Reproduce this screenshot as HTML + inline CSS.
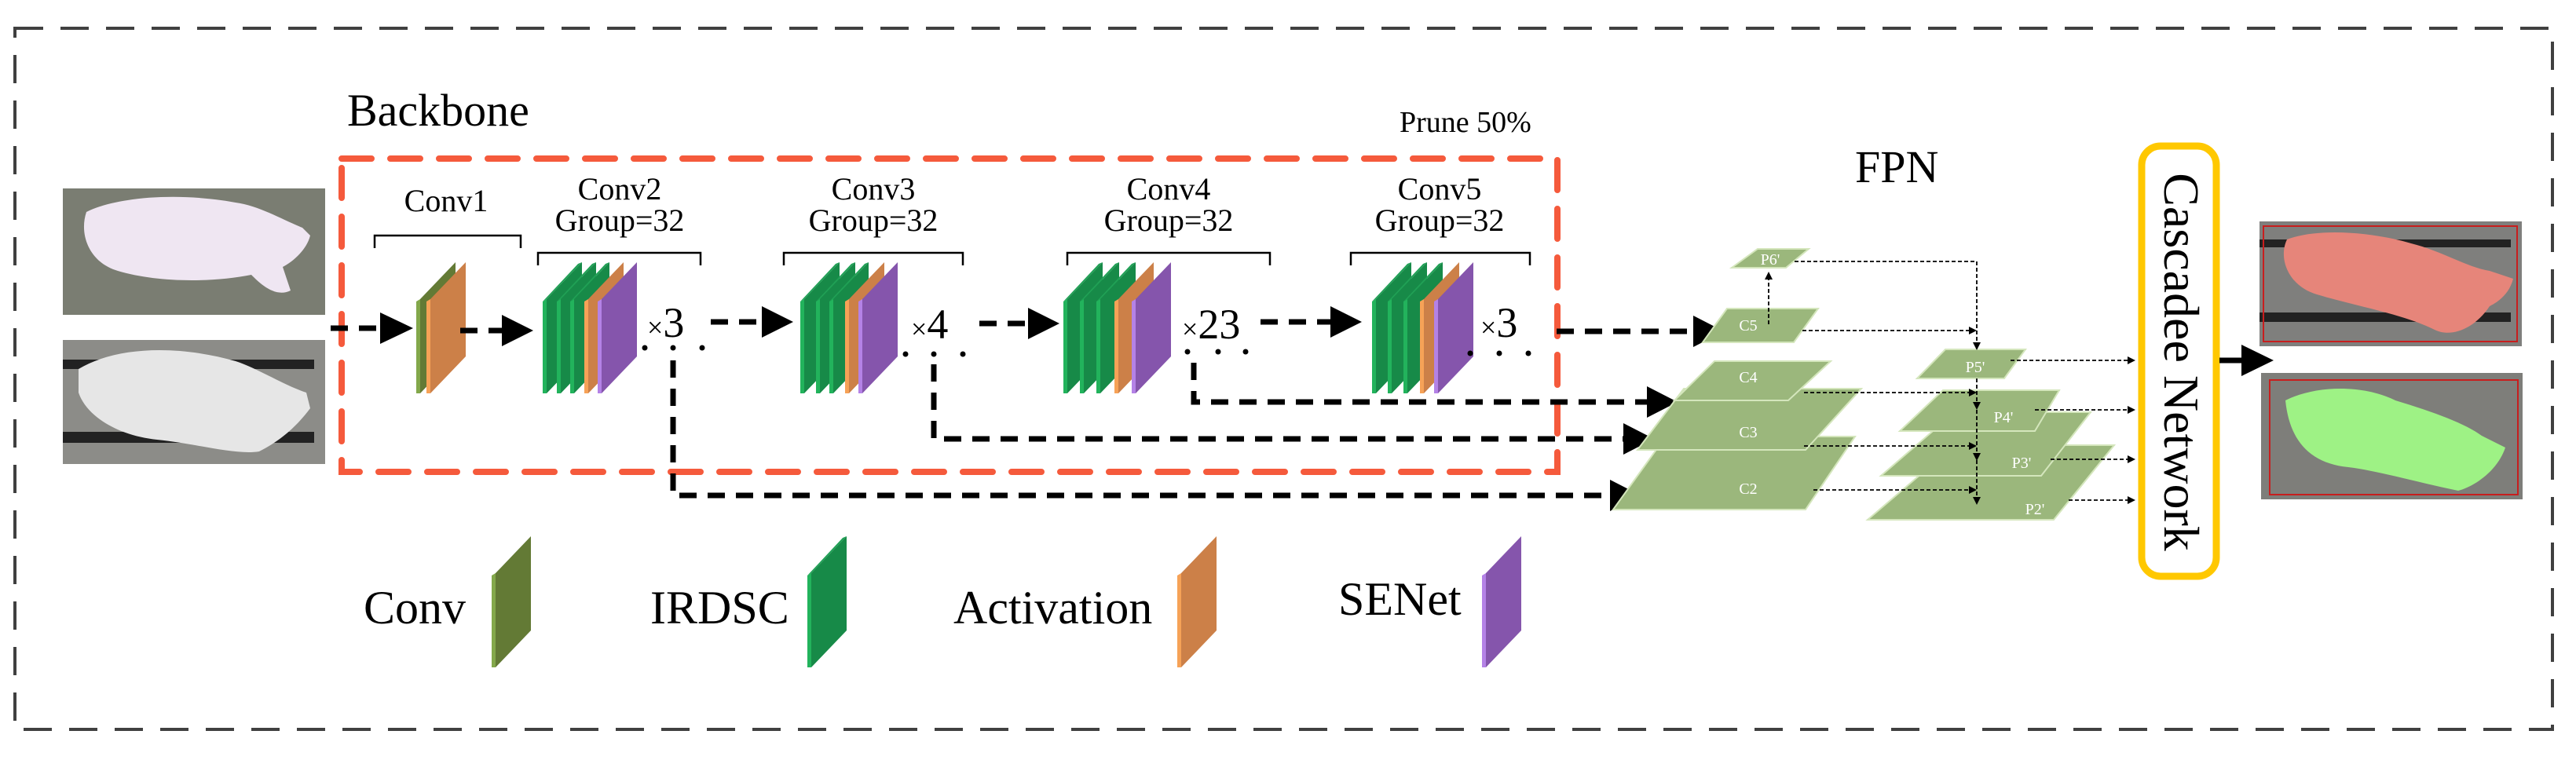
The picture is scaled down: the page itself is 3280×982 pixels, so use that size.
<!DOCTYPE html>
<html><head><meta charset="utf-8"><style>
html,body{margin:0;padding:0;background:#fff;}
svg{display:block;font-family:"Liberation Serif",serif;}
text{font-family:"Liberation Serif",serif;}
</style></head><body>
<svg width="3280" height="982" viewBox="0 0 3280 982" xmlns="http://www.w3.org/2000/svg" font-family="Liberation Serif, serif">
<defs>
<g id="sg"><polygon points="5,47 50,0 50,120 5,167" fill="#178a48"/><polygon points="0,50 5,47 5,167 0,167" fill="#22b35c"/><polygon points="0,50 45,2 50,0 5,47" fill="#20a055"/></g>
<g id="so"><polygon points="5,47 50,0 50,120 5,167" fill="#cc8048"/><polygon points="0,50 5,47 5,167 0,167" fill="#f6a257"/></g>
<g id="sp"><polygon points="5,47 50,0 50,120 5,167" fill="#8555ac"/><polygon points="0,50 5,47 5,167 0,167" fill="#b482e6"/></g>
<g id="sc"><polygon points="5,47 50,0 50,120 5,167" fill="#637a35"/><polygon points="0,50 5,47 5,167 0,167" fill="#83a84b"/></g>
</defs>

<rect x="19" y="36" width="3231" height="893" fill="none" stroke="#404040" stroke-width="4" stroke-dasharray="36 22"/>

<text x="442" y="160" font-size="58">Backbone</text>
<text x="1782" y="168" font-size="38">Prune 50%</text>
<rect x="435" y="202" width="1548" height="399" fill="none" stroke="#f55a3c" stroke-width="8" stroke-dasharray="38 24" stroke-linecap="round"/>

<rect x="80" y="240" width="334" height="161" fill="#7a7d72"/>
<path d="M110 270 C150 250 230 245 300 258 C330 262 360 280 385 290 L395 300 C390 320 370 335 360 340 L370 370 C350 380 330 360 320 350 C270 360 200 360 150 345 C115 335 100 300 110 270Z" fill="#efe6f2"/>
<rect x="80" y="433" width="334" height="158" fill="#8c8c88"/>
<rect x="80" y="458" width="320" height="12" fill="#222"/>
<rect x="80" y="550" width="320" height="14" fill="#222"/>
<path d="M100 470 C150 440 230 440 300 460 C330 470 360 490 390 500 L395 520 C380 540 360 560 330 575 C300 580 250 565 200 560 C150 555 110 530 100 500Z" fill="#e6e6e6"/>

<g font-size="40" text-anchor="middle">
<text x="568" y="269">Conv1</text>
<text x="789" y="254">Conv2</text><text x="789" y="294">Group=32</text>
<text x="1112" y="254">Conv3</text><text x="1112" y="294">Group=32</text>
<text x="1488" y="254">Conv4</text><text x="1488" y="294">Group=32</text>
<text x="1833" y="254">Conv5</text><text x="1833" y="294">Group=32</text>
</g>
<g fill="none" stroke="#000" stroke-width="2.5">
<polyline points="477,316 477,300 663,300 663,316"/>
<polyline points="685,338 685,322 892,322 892,338"/>
<polyline points="998,338 998,322 1226,322 1226,338"/>
<polyline points="1359,338 1359,322 1617,322 1617,338"/>
<polyline points="1720,338 1720,322 1948,322 1948,338"/>
</g>

<use href="#sc" x="530" y="334"/><use href="#so" x="543" y="334"/>
<use href="#sg" x="691" y="334"/><use href="#sg" x="709" y="334"/><use href="#sg" x="726" y="334"/><use href="#so" x="744" y="334"/><use href="#sp" x="761" y="334"/>
<use href="#sg" x="1019" y="334"/><use href="#sg" x="1039" y="334"/><use href="#sg" x="1056" y="334"/><use href="#so" x="1076" y="334"/><use href="#sp" x="1093" y="334"/>
<use href="#sg" x="1354" y="334"/><use href="#sg" x="1375" y="334"/><use href="#sg" x="1396" y="334"/><use href="#so" x="1419" y="334"/><use href="#sp" x="1441" y="334"/>
<use href="#sg" x="1747" y="334"/><use href="#sg" x="1767" y="334"/><use href="#sg" x="1787" y="334"/><use href="#so" x="1808" y="334"/><use href="#sp" x="1826" y="334"/>

<g font-size="54"><text x="824" y="429"><tspan font-size="36">×</tspan>3</text>
<text x="1160" y="431"><tspan font-size="36">×</tspan>4</text>
<text x="1505" y="431"><tspan font-size="36">×</tspan>23</text>
<text x="1885" y="429"><tspan font-size="36">×</tspan>3</text></g>
<g fill="#000">
<circle cx="821" cy="443" r="3.5"/><circle cx="857" cy="443" r="3.5"/><circle cx="894" cy="443" r="3.5"/>
<circle cx="1153" cy="451" r="3.5"/><circle cx="1189" cy="451" r="3.5"/><circle cx="1226" cy="451" r="3.5"/>
<circle cx="1512" cy="448" r="3.5"/><circle cx="1551" cy="448" r="3.5"/><circle cx="1586" cy="448" r="3.5"/>
<circle cx="1872" cy="450" r="3.5"/><circle cx="1909" cy="450" r="3.5"/><circle cx="1946" cy="450" r="3.5"/>
</g>

<g fill="none" stroke="#000" stroke-width="7" stroke-dasharray="22 14">
<line x1="421" y1="418" x2="486" y2="418"/>
<line x1="586" y1="421" x2="640" y2="421"/>
<line x1="905" y1="410" x2="970" y2="410"/>
<line x1="1247" y1="412" x2="1310" y2="412"/>
<line x1="1605" y1="410" x2="1694" y2="410"/>
<line x1="1982" y1="422" x2="2158" y2="422"/>
<polyline points="857,459 857,631 2052,631"/>
<polyline points="1189,464 1189,559 2070,559"/>
<polyline points="1520,462 1520,512 2100,512"/>
</g>
<g fill="#000">
<polygon points="484,398 526,418 484,438"/>
<polygon points="639,401 679,421 639,441"/>
<polygon points="970,390 1010,410 970,430"/>
<polygon points="1309,392 1349,412 1309,432"/>
<polygon points="1694,390 1734,410 1694,430"/>
<polygon points="2156,402 2195,422 2156,442"/>
<polygon points="2050,611 2089,631 2050,651"/>
<polygon points="2067,539 2106,559 2067,579"/>
<polygon points="2097,492 2136,512 2097,532"/>
</g>

<text x="2362" y="232" font-size="58">FPN</text>
<g fill="#9bb77c" stroke="#d4e6bc" stroke-width="2">
<polygon points="2121,556 2362,556 2299,649 2054,649"/>
<polygon points="2144,495 2370,495 2299,573 2085,573"/>
<polygon points="2183,460 2331,460 2277,510 2132,510"/>
<polygon points="2199,393 2315,393 2284,436 2168,436"/>
<polygon points="2238,317 2303,317 2274,341 2205,341"/>
<polygon points="2489,567 2692,567 2615,662 2378,662"/>
<polygon points="2489,525 2662,525 2599,606 2395,606"/>
<polygon points="2474,497 2622,497 2591,549 2419,549"/>
<polygon points="2477,445 2579,445 2552,482 2441,482"/>
</g>
<g fill="#fff" font-size="20" text-anchor="middle">
<text x="2254" y="337">P6'</text>
<text x="2226" y="421">C5</text>
<text x="2226" y="487">C4</text>
<text x="2226" y="557">C3</text>
<text x="2226" y="629">C2</text>
<text x="2515" y="474">P5'</text>
<text x="2551" y="538">P4'</text>
<text x="2574" y="596">P3'</text>
<text x="2591" y="655">P2'</text>
</g>
<g fill="none" stroke="#000" stroke-width="1.8" stroke-dasharray="5 3">
<polyline points="2285,333 2517,333 2517,438"/>
<line x1="2252" y1="413" x2="2252" y2="355"/>
<line x1="2295" y1="421" x2="2510" y2="421"/>
<line x1="2517" y1="482" x2="2517" y2="637"/>
<line x1="2297" y1="500" x2="2510" y2="500"/>
<line x1="2297" y1="568" x2="2510" y2="568"/>
<line x1="2309" y1="624" x2="2510" y2="624"/>
<line x1="2560" y1="459" x2="2711" y2="459"/>
<line x1="2591" y1="522" x2="2711" y2="522"/>
<line x1="2611" y1="585" x2="2711" y2="585"/>
<line x1="2634" y1="637" x2="2711" y2="637"/>
</g>
<g fill="#000">
<polygon points="2247,356 2257,356 2252,346"/>
<polygon points="2512,436 2522,436 2517,446"/>
<polygon points="2507,416 2517,421 2507,426"/>
<polygon points="2507,495 2517,500 2507,505"/>
<polygon points="2507,563 2517,568 2507,573"/>
<polygon points="2507,619 2517,624 2507,629"/>
<polygon points="2512,512 2522,512 2517,522"/>
<polygon points="2512,577 2522,577 2517,587"/>
<polygon points="2512,633 2522,633 2517,643"/>
<polygon points="2709,454 2719,459 2709,464"/>
<polygon points="2709,517 2719,522 2709,527"/>
<polygon points="2709,580 2719,585 2709,590"/>
<polygon points="2709,632 2719,637 2709,642"/>
</g>

<rect x="2727" y="186" width="95" height="548" rx="24" fill="#fff" stroke="#ffc800" stroke-width="9"/>
<text transform="translate(2756,461) rotate(90)" font-size="64" text-anchor="middle">Cascadee Network</text>
<line x1="2826" y1="459" x2="2856" y2="459" stroke="#000" stroke-width="7"/>
<polygon points="2854,439 2895,459 2854,479" fill="#000"/>

<rect x="2877" y="282" width="334" height="159" fill="#7f7f7d"/>
<rect x="2877" y="305" width="320" height="10" fill="#222"/>
<rect x="2877" y="398" width="320" height="12" fill="#222"/>
<path d="M2912 305 C2950 290 3020 295 3070 310 C3110 320 3140 340 3170 345 L3200 355 C3195 375 3180 385 3170 390 C3150 420 3120 430 3100 420 C3060 400 3000 390 2950 375 C2915 365 2900 330 2912 305Z" fill="#e6857a"/>
<rect x="2882" y="288" width="323" height="147" fill="none" stroke="#c81e1e" stroke-width="2"/>
<rect x="2879" y="475" width="333" height="161" fill="#7e7e7a"/>
<path d="M2910 510 C2950 490 3010 490 3050 510 C3100 525 3140 540 3160 555 L3190 570 C3180 600 3150 620 3130 625 C3080 615 3030 600 2990 595 C2940 590 2915 560 2910 510Z" fill="#9ef285"/>
<rect x="2890" y="484" width="316" height="146" fill="none" stroke="#c81e1e" stroke-width="2"/>

<g font-size="60">
<text x="463" y="794">Conv</text>
<text x="828" y="794">IRDSC</text>
<text x="1214" y="794">Activation</text>
<text x="1704" y="783">SENet</text>
</g>
<use href="#sc" x="626" y="683"/>
<use href="#sg" x="1028" y="683"/>
<use href="#so" x="1499" y="683"/>
<use href="#sp" x="1887" y="683"/>
</svg>
</body></html>
